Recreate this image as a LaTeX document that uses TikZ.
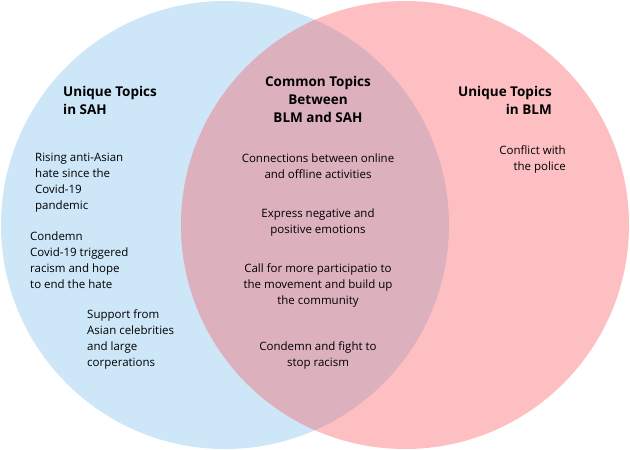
\documentclass[tikz,border=0pt]{standalone}
\usepackage{fontspec}
\setmainfont{Open Sans}
\begin{document}
\begin{tikzpicture}[x=1pt,y=-1pt,
  t/.style={font=\fontsize{11.5}{16}\selectfont,inner sep=0},
  h/.style={font=\fontsize{13.5}{18}\selectfont\bfseries,inner sep=0}]
\useasboundingbox (0,0) rectangle (630,450);
\definecolor{lb}{HTML}{CDE6F8}\definecolor{pk}{HTML}{FDBFC2}\definecolor{ov}{HTML}{DDB0BE}
\fill[lb] (225,225) circle (224);
\fill[pk] (405,225) circle (224);
\begin{scope}\clip (225,225) circle (224); \fill[ov] (405,225) circle (224);\end{scope}
\node[h,align=left,anchor=north west] (lt) at (63,86) {Unique Topics\\in SAH};
\node[t,align=left,anchor=north west] (l1) at (35,153) {Rising anti-Asian\\hate since the\\Covid-19\\pandemic};
\node[t,align=left,anchor=north west] (l2) at (30,232) {Condemn\\Covid-19 triggered\\racism and hope\\to end the hate};
\node[t,align=left,anchor=north west] (l3) at (87,309) {Support from\\Asian celebrities\\and large\\corperations};
\node[h,align=center,anchor=north] (ct) at (318,76) {Common Topics\\Between\\BLM and SAH};
\node[t,align=center,anchor=north] (c1) at (318,154) {Connections between online\\and offline activities};
\node[t,align=center,anchor=north] (c2) at (318,209) {Express negative and\\positive emotions};
\node[t,align=center,anchor=north] (c3) at (318,263) {Call for more participatio to\\the movement and build up\\the community};
\node[t,align=center,anchor=north] (c4) at (318,341) {Condemn and fight to\\stop racism};
\node[h,align=right,anchor=north east] (rt) at (552,86) {Unique Topics\\in BLM};
\node[t,align=right,anchor=north east] (r1) at (566,145) {Conflict with\\the police};
\end{tikzpicture}
\end{document}
